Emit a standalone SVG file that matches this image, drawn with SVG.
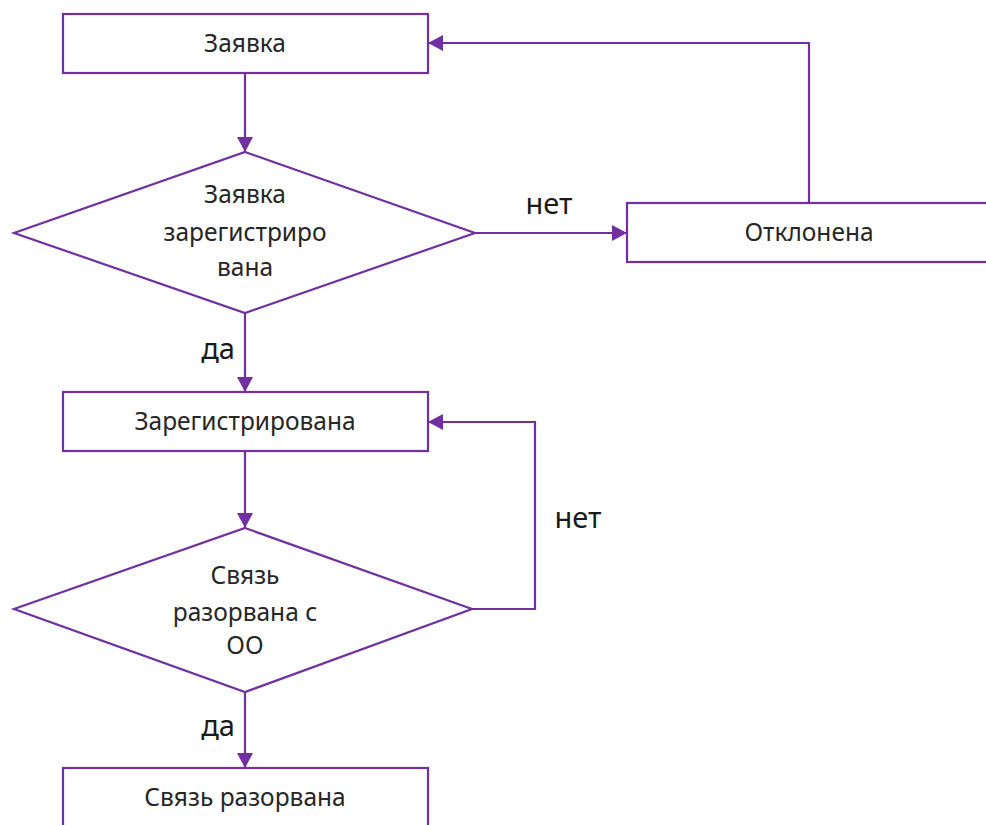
<svg xmlns="http://www.w3.org/2000/svg" width="986" height="825" viewBox="0 0 986 825">
<style>
.n{fill:#fff;stroke:#7030A0;stroke-width:2.2}
.t{font-family:"Noto Sans","Open Sans",sans-serif;font-size:24.5px;fill:#262626;text-anchor:middle}
.l{font-family:"Noto Sans","Open Sans",sans-serif;font-size:29px;fill:#1a1a1a;text-anchor:middle}
.c{fill:none;stroke:#7030A0;stroke-width:2.2}
</style>
<defs>
<marker id="a" markerUnits="userSpaceOnUse" markerWidth="16" markerHeight="16" refX="15" refY="8" orient="auto">
<path d="M0,0 L15,8 L0,16 Z" fill="#7030A0"/>
</marker>
</defs>
<rect width="986" height="825" fill="#fff"/>
<g id="connectors">
<path class="c" d="M245,73 V152" marker-end="url(#a)"/>
<path class="c" d="M475,233 H627" marker-end="url(#a)"/>
<path class="c" d="M809,203 V43 H428" marker-end="url(#a)"/>
<path class="c" d="M245,313 V392" marker-end="url(#a)"/>
<path class="c" d="M245,451 V528" marker-end="url(#a)"/>
<path class="c" d="M472,609 H535 V422 H428" marker-end="url(#a)"/>
<path class="c" d="M245,692 V768" marker-end="url(#a)"/>
<text class="l" x="549" y="214">нет</text>
<text class="l" x="218" y="359">да</text>
<text class="l" x="578" y="528">нет</text>
<text class="l" x="218" y="736">да</text>
</g>
<g id="zayavka">
<rect class="n" x="63" y="14" width="365" height="59"/>
<text class="t" x="245" y="52">Заявка</text>
</g>
<g id="decision1">
<polygon class="n" points="245,152 475,233 245,313 14,233"/>
<text class="t" x="245" y="203">Заявка</text>
<text class="t" x="245" y="241">зарегистриро</text>
<text class="t" x="245" y="276">вана</text>
</g>
<g id="otklonena">
<rect class="n" x="627" y="203" width="365" height="59"/>
<text class="t" x="809" y="241">Отклонена</text>
</g>
<g id="zaregistrirovana">
<rect class="n" x="63" y="392" width="365" height="59"/>
<text class="t" x="245" y="430">Зарегистрирована</text>
</g>
<g id="decision2">
<polygon class="n" points="245,528 472,609 245,692 14,609"/>
<text class="t" x="245" y="584">Связь</text>
<text class="t" x="245" y="621">разорвана с</text>
<text class="t" x="245" y="654">ОО</text>
</g>
<g id="razorvana">
<rect class="n" x="63" y="768" width="365" height="59"/>
<text class="t" x="245" y="806">Связь разорвана</text>
</g>
</svg>
